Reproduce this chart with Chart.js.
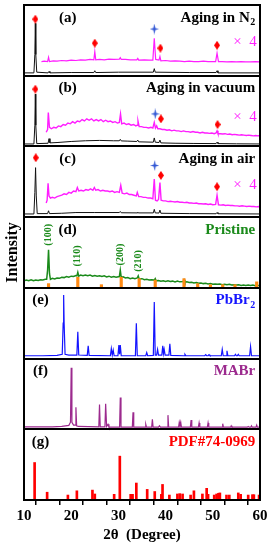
<!DOCTYPE html>
<html>
<head>
<meta charset="utf-8">
<script src="https://cdn.jsdelivr.net/npm/chart.js@4.4.1/dist/chart.umd.min.js"></script>
<style>
  html, body { margin:0; padding:0; background:#fff; }
  #wrap { width:273px; height:550px; }
</style>
</head>
<body>
<div id="wrap"><canvas id="xrd" width="273" height="550"></canvas></div>
<script>
// XRD stack: panels (a)..(g), each panel one unit tall on the y scale
// values are relative intensity inside a panel, 0 = panel bottom, 1 = panel top

const X_TICKS = [10, 20, 30, 40, 50, 60];

// (a) aging in N2
const aBlack = [[10,0.04],[12.1,0.04],[12.3,0.3],[12.4,0.74],[12.5,0.3],[12.7,0.05],[15.1,0.04],[15.3,0.06],[15.5,0.04],
  [20,0.045],[24.8,0.045],[25.0,0.07],[25.2,0.045],[30,0.05],[37.4,0.05],[37.6,0.1],[37.8,0.05],[45,0.045],[50.7,0.045],[50.9,0.07],[51.1,0.04],[60,0.04]];
const aPink = [[13.7,0.2],[14.3,0.205],[15.0,0.2],[15.2,0.26],[15.4,0.2],[16.2,0.21],[17,0.205],[18,0.215],[19,0.21],[20,0.22],[21,0.215],
  [22,0.225],[23,0.22],[24,0.23],[24.8,0.225],[25.0,0.34],[25.2,0.225],[26,0.23],[27,0.225],[28,0.235],[29,0.23],[30.2,0.235],[30.4,0.255],[30.6,0.23],
  [31.5,0.23],[32.5,0.225],[33.9,0.225],[34.1,0.245],[34.3,0.22],[35.5,0.225],[36.5,0.22],[37.3,0.22],[37.6,0.53],[37.9,0.23],[38.6,0.22],[38.8,0.27],
  [39.0,0.21],[40,0.215],[41,0.205],[42,0.21],[43,0.205],[44,0.2],[45,0.205],[46,0.2],[47,0.2],[48,0.205],[49,0.2],[50.6,0.2],[50.9,0.32],[51.2,0.2],
  [52,0.2],[53,0.195],[54,0.2],[55,0.195],[56,0.2],[57,0.195],[58,0.195],[59,0.2],[60,0.195]];
const aDiamonds = [[12.4,0.8],[25.0,0.46],[38.9,0.39],[50.9,0.43]];
const aStars = [[37.6,0.66]];

// (b) aging in vacuum
const bBlack = [[10,0.035],[12.1,0.035],[12.3,0.3],[12.4,0.74],[12.5,0.3],[12.7,0.04],[15.1,0.045],[15.3,0.11],[15.5,0.05],[17,0.055],[20,0.07],
  [23,0.08],[26,0.085],[29,0.08],[30.2,0.08],[30.4,0.1],[30.6,0.078],[32,0.075],[33.9,0.07],[34.1,0.09],[34.3,0.065],[37.4,0.06],[37.6,0.12],[37.8,0.06],
  [38.6,0.055],[38.8,0.09],[39.0,0.05],[42,0.045],[46,0.042],[50.7,0.04],[50.9,0.06],[51.1,0.04],[55,0.037],[60,0.035]];
const bPink = [[14.7,0.2],[15.0,0.24],[15.15,0.48],[15.4,0.27],[15.8,0.25],[16.3,0.27],[16.8,0.26],[17.3,0.29],[17.8,0.28],[18.3,0.31],[18.8,0.3],
  [19.3,0.33],[19.8,0.32],[20.3,0.35],[20.8,0.33],[21.3,0.36],[21.8,0.35],[22.3,0.38],[22.8,0.36],[23.3,0.39],[23.8,0.37],[24.3,0.39],[24.8,0.36],
  [25.3,0.38],[25.8,0.36],[26.3,0.38],[26.8,0.35],[27.3,0.37],[27.8,0.35],[28.3,0.36],[28.8,0.34],[29.3,0.35],[29.8,0.33],[30.2,0.34],[30.45,0.46],
  [30.7,0.32],[31.2,0.33],[31.7,0.31],[32.2,0.32],[32.7,0.3],[33.2,0.31],[33.7,0.29],[34.0,0.3],[34.15,0.36],[34.4,0.28],[34.9,0.28],[35.4,0.27],
  [35.9,0.27],[36.4,0.26],[36.9,0.27],[37.3,0.26],[37.6,0.34],[37.85,0.26],[38.1,0.29],[38.35,0.25],[38.8,0.25],[39.3,0.24],[39.8,0.24],[40.3,0.23],
  [40.8,0.235],[41.3,0.22],[41.8,0.23],[42.3,0.22],[42.8,0.22],[43.3,0.21],[43.8,0.22],[44.3,0.21],[44.8,0.21],[45.3,0.2],[45.8,0.21],[46.3,0.2],
  [46.8,0.2],[47.3,0.19],[47.8,0.2],[48.3,0.19],[48.8,0.19],[49.3,0.185],[49.8,0.19],[50.3,0.18],[50.7,0.19],[50.9,0.22],[51.1,0.18],[51.6,0.18],
  [52.1,0.175],[52.6,0.18],[53.1,0.17],[53.6,0.175],[54.1,0.165],[54.6,0.17],[55.1,0.165],[55.6,0.16],[56.1,0.165],[56.6,0.16],[57.1,0.155],
  [57.6,0.16],[58.1,0.155],[58.6,0.15],[59.1,0.155],[59.6,0.15],[60,0.15]];
const bDiamonds = [[12.4,0.81],[39.0,0.39],[51.0,0.31]];
const bStars = [[37.8,0.46]];

// (c) aging in air
const cBlack = [[10,0.045],[12.1,0.045],[12.3,0.35],[12.45,0.7],[12.6,0.3],[12.8,0.05],[15.0,0.05],[15.2,0.09],[15.4,0.05],[18,0.055],[21,0.065],
  [25,0.065],[30.2,0.065],[30.4,0.08],[30.6,0.062],[34.0,0.06],[34.1,0.07],[34.2,0.06],[37.4,0.06],[37.6,0.11],[37.8,0.06],[38.6,0.058],[38.8,0.1],
  [39.0,0.055],[45,0.05],[50.7,0.048],[50.9,0.065],[51.1,0.048],[60,0.045]];
const cPink = [[14.7,0.2],[14.9,0.24],[15.1,0.48],[15.3,0.3],[15.6,0.27],[16.0,0.28],[16.5,0.27],[17.0,0.29],[17.5,0.3],[18.0,0.31],[18.5,0.33],
  [19.0,0.32],[19.5,0.35],[20.0,0.34],[20.5,0.37],[21.0,0.36],[21.3,0.42],[21.6,0.37],[22.1,0.38],[22.6,0.37],[23.1,0.39],[23.6,0.38],[24.1,0.4],
  [24.6,0.38],[24.9,0.42],[25.2,0.38],[25.7,0.39],[26.2,0.37],[26.7,0.38],[27.2,0.37],[27.7,0.37],[28.2,0.36],[28.7,0.37],[29.2,0.35],[29.7,0.36],
  [30.2,0.35],[30.5,0.45],[30.8,0.34],[31.3,0.33],[31.8,0.34],[32.3,0.32],[32.8,0.32],[33.3,0.31],[33.8,0.3],[34.0,0.35],[34.3,0.29],[34.8,0.29],
  [35.3,0.28],[35.8,0.28],[36.3,0.27],[36.8,0.27],[37.3,0.26],[37.6,0.54],[37.85,0.24],[38.2,0.23],[38.5,0.25],[38.8,0.49],[39.05,0.24],[39.5,0.23],
  [40.0,0.23],[40.5,0.22],[41.0,0.225],[41.5,0.22],[42.0,0.215],[42.5,0.22],[43.0,0.21],[43.5,0.21],[44.0,0.205],[44.5,0.21],[45.0,0.2],[45.5,0.2],
  [46.0,0.195],[46.5,0.2],[47.0,0.19],[47.5,0.19],[48.0,0.185],[48.5,0.19],[49.0,0.18],[49.5,0.185],[50.0,0.175],[50.6,0.18],[50.9,0.31],[51.2,0.175],
  [51.7,0.17],[52.2,0.175],[52.7,0.165],[53.2,0.17],[53.7,0.165],[54.2,0.165],[54.7,0.16],[55.2,0.16],[55.7,0.155],[56.2,0.16],[56.7,0.155],
  [57.2,0.15],[57.7,0.155],[58.2,0.15],[58.7,0.15],[59.2,0.145],[59.7,0.15],[60,0.145]];
const cDiamonds = [[12.5,0.84],[39.0,0.59],[50.9,0.43]];
const cStars = [[37.7,0.73]];

// (d) pristine film + reference sticks
const dGreen = [[10,0.1],[10.5,0.11],[11,0.1],[11.5,0.115],[12,0.1],[12.5,0.11],[13,0.105],[13.5,0.115],[14,0.11],[14.5,0.12],[14.8,0.12],[15.0,0.25],
  [15.2,0.54],[15.4,0.2],[15.6,0.12],[16,0.135],[16.5,0.125],[17,0.14],[17.5,0.135],[18,0.15],[18.5,0.145],[19,0.16],[19.5,0.15],[20,0.165],[20.5,0.16],
  [21.0,0.175],[21.2,0.17],[21.4,0.22],[21.6,0.165],[22,0.18],[22.5,0.17],[23,0.18],[23.5,0.17],[24,0.18],[24.5,0.165],[25,0.175],[25.5,0.165],
  [26,0.17],[26.5,0.16],[27,0.17],[27.5,0.155],[28,0.165],[28.5,0.15],[29,0.16],[29.5,0.15],[30.2,0.16],[30.4,0.25],[30.6,0.15],[31,0.155],[31.5,0.14],
  [32,0.145],[32.5,0.13],[33,0.14],[33.5,0.13],[34.0,0.14],[34.2,0.17],[34.4,0.125],[35,0.13],[35.5,0.115],[36,0.12],[36.5,0.11],[37,0.115],[37.6,0.11],
  [37.8,0.13],[38.0,0.1],[38.5,0.105],[39,0.095],[39.5,0.1],[40,0.09],[40.5,0.1],[41,0.09],[41.5,0.095],[42,0.085],[42.5,0.095],[43,0.085],[43.7,0.09],
  [43.9,0.115],[44.1,0.08],[44.5,0.085],[45,0.075],[45.5,0.08],[46,0.07],[46.5,0.075],[47,0.065],[47.5,0.07],[48,0.06],[48.5,0.065],[49,0.055],
  [49.5,0.06],[50,0.05],[50.5,0.055],[51,0.05],[51.5,0.055],[52,0.045],[52.5,0.05],[53,0.045],[53.5,0.05],[54,0.04],[54.5,0.045],[55,0.04],
  [55.5,0.045],[56,0.035],[56.5,0.04],[57,0.035],[57.5,0.04],[58,0.035],[58.5,0.04],[59,0.03],[59.5,0.035],[60,0.035]];
const dStickPos = [15.2, 21.4, 26.4, 30.6, 34.4, 37.8, 43.9, 46.8, 49.5, 52.1, 54.7, 59.3];
const dStickHeight = [0.06, 0.15, 0.045, 0.15, 0.13, 0.11, 0.13, 0.06, 0.045, 0.045, 0.045, 0.085];
const dPlanes = [['(100)', 15.1, 0.75], ['(110)', 21.4, 0.45], ['(200)', 30.4, 0.47], ['(210)', 34.2, 0.38]];

// (e) PbBr2
const ePbBr2 = [[10,0.04],[14,0.04],[17,0.045],[18.1,0.06],[18.3,0.5],[18.4,0.9],[18.5,0.5],[18.7,0.06],[19.5,0.05],[21.2,0.05],[21.4,0.38],[21.6,0.05],
  [23.4,0.045],[23.6,0.18],[23.8,0.045],[28.3,0.04],[28.5,0.14],[28.7,0.05],[28.9,0.12],[29.1,0.04],[29.9,0.04],[30.1,0.19],[30.25,0.06],[30.4,0.19],
  [30.6,0.04],[33.6,0.04],[33.8,0.5],[34.0,0.04],[35.8,0.04],[36.0,0.085],[36.2,0.04],[37.4,0.045],[37.6,0.8],[37.8,0.05],[38.1,0.05],[38.3,0.13],
  [38.5,0.05],[39.2,0.05],[39.4,0.18],[39.55,0.07],[39.7,0.13],[39.9,0.05],[40.7,0.05],[40.9,0.21],[41.1,0.045],[43.9,0.04],[44.1,0.06],[44.3,0.04],
  [48.3,0.04],[48.5,0.055],[48.7,0.04],[49.0,0.04],[49.2,0.055],[49.4,0.04],[51.8,0.04],[52.0,0.13],[52.2,0.04],[52.8,0.04],[53.0,0.11],[53.2,0.04],
  [54.6,0.04],[54.8,0.06],[55.0,0.04],[55.2,0.04],[55.4,0.06],[55.6,0.04],[57.8,0.04],[58.0,0.17],[58.2,0.04],[60,0.04]];

// (f) MABr
const fMABr = [[10,0.035],[16,0.035],[18,0.04],[19.5,0.055],[19.85,0.1],[20.0,0.87],[20.15,0.1],[20.5,0.06],[20.85,0.06],[21.0,0.31],[21.15,0.05],
  [21.5,0.04],[25.85,0.035],[26.0,0.35],[26.15,0.035],[27.15,0.035],[27.3,0.36],[27.5,0.04],[27.8,0.07],[28.0,0.03],[30.25,0.03],[30.4,0.45],
  [30.55,0.03],[32.95,0.03],[33.1,0.24],[33.25,0.03],[35.65,0.03],[35.8,0.07],[35.95,0.03],[37.05,0.03],[37.2,0.14],[37.35,0.03],[38.5,0.03],
  [38.7,0.05],[38.9,0.03],[40.35,0.03],[40.5,0.2],[40.65,0.03],[42.75,0.03],[42.9,0.1],[43.05,0.06],[43.2,0.1],[43.35,0.03],[45.25,0.03],[45.4,0.13],
  [45.55,0.03],[46.95,0.03],[47.1,0.09],[47.25,0.03],[48.85,0.03],[49.0,0.09],[49.15,0.03],[51.95,0.03],[52.1,0.08],[52.25,0.03],[53.75,0.03],
  [53.9,0.05],[54.05,0.03],[57.3,0.03],[57.5,0.04],[57.7,0.03],[58.05,0.03],[58.2,0.05],[58.35,0.03],[59.15,0.03],[59.3,0.06],[59.45,0.03],[60,0.03]];

// (g) PDF#74-0969 stick pattern
const gPos = [12.25, 14.9, 19.3, 21.2, 24.5, 25.0, 29.1, 30.3, 32.6, 33.0, 33.8, 36.1, 37.7, 39.1, 39.35, 40.8, 42.5, 43.0, 43.6, 45.3, 46.0,
  47.8, 48.7, 49.0, 50.3, 50.8, 51.2, 51.5, 52.9, 53.5, 55.4, 55.9, 57.5, 58.4, 58.7, 59.8];
const gHeight = [0.53, 0.11, 0.07, 0.13, 0.14, 0.085, 0.08, 0.62, 0.08, 0.08, 0.24, 0.15, 0.12, 0.08, 0.22, 0.07, 0.085, 0.09, 0.085, 0.07, 0.13,
  0.085, 0.165, 0.08, 0.07, 0.085, 0.095, 0.1, 0.07, 0.07, 0.1, 0.08, 0.07, 0.075, 0.075, 0.07];

// panel order from top, each with its labels
const PANELS = ['(a)', '(b)', '(c)', '(d)', '(e)', '(f)', '(g)'];
const PANEL_TITLES = [['Aging in N', '2'], ['Aging in vacuum', ''], ['Aging in air', ''], ['Pristine', ''], ['PbBr', '2'], ['MABr', ''], ['PDF#74-0969', '']];

const COLORS = { black:'#111111', pink:'#ff1eff', green:'#1a8a1a', orange:'#ff8a14', blue:'#1414ff', purple:'#9c2a8e', red:'#ff0000', star:'#2f55d4' };
const SERIF = '"Liberation Serif", "Times New Roman", serif';

function off(panelIdx){ return 6 - panelIdx; }
function pts(arr, p){ return arr.map(d => ({ x:d[0], y:d[1] + off(p) })); }

function makeDiamond(color){
  const c = document.createElement('canvas');
  c.width = 6; c.height = 9;
  const g = c.getContext('2d');
  g.fillStyle = color;
  g.beginPath(); g.moveTo(3,0); g.lineTo(6,4.5); g.lineTo(3,9); g.lineTo(0,4.5); g.closePath(); g.fill();
  return c;
}
function makeStar(color){
  const c = document.createElement('canvas');
  c.width = 9; c.height = 11;
  const g = c.getContext('2d');
  g.fillStyle = color;
  g.beginPath();
  g.moveTo(4.5,0); g.lineTo(5.5,4.5); g.lineTo(9,5.5); g.lineTo(5.5,6.5);
  g.lineTo(4.5,11); g.lineTo(3.5,6.5); g.lineTo(0,5.5); g.lineTo(3.5,4.5);
  g.closePath(); g.fill();
  return c;
}
const diamond = makeDiamond(COLORS.red);
const star = makeStar(COLORS.star);

function line(data, color, width, order){
  return { type:'line', data, borderColor:color, borderWidth:width, pointRadius:0, tension:0, fill:false, order };
}
function markers(data, style){
  return { type:'line', data, showLine:false, pointStyle:style, pointRadius:4, order:0 };
}

const datasets = [
  markers(pts(aDiamonds,0), diamond), markers(pts(aStars,0), star),
  markers(pts(bDiamonds,1), diamond), markers(pts(bStars,1), star),
  markers(pts(cDiamonds,2), diamond), markers(pts(cStars,2), star),
  { type:'bar', data: dStickPos.map((x,i)=>({ x, y:[off(3), off(3)+dStickHeight[i]] })), backgroundColor:COLORS.orange,
    barThickness:2.5, grouped:false, order:1 },
  { type:'bar', data: gPos.map((x,i)=>({ x, y:gHeight[i] })), backgroundColor:COLORS.red, barThickness:2, grouped:false, order:1 },
  line(pts(aPink,0), COLORS.pink, 1.2, 3), line(pts(aBlack,0), COLORS.black, 1, 4),
  line(pts(bPink,1), COLORS.pink, 1.4, 3), line(pts(bBlack,1), COLORS.black, 1, 4),
  line(pts(cPink,2), COLORS.pink, 1.4, 3), line(pts(cBlack,2), COLORS.black, 1, 4),
  line(pts(dGreen,3), COLORS.green, 1.5, 3),
  line(pts(ePbBr2,4), COLORS.blue, 1.2, 3),
  line(pts(fMABr,5), COLORS.purple, 1.2, 3)
];

// frame, panel separators and all in-panel text
const framePlugin = {
  id:'frame',
  afterDatasetsDraw(chart){
    const { ctx, chartArea:a, scales:{x, y} } = chart;
    ctx.save();
    ctx.strokeStyle = '#000';
    ctx.lineWidth = 2;
    ctx.strokeRect(a.left, a.top, a.right - a.left, a.bottom - a.top);
    for (let i = 1; i < 7; i++){
      const py = Math.round(y.getPixelForValue(i));
      ctx.beginPath(); ctx.moveTo(a.left, py); ctx.lineTo(a.right, py); ctx.stroke();
    }
    ctx.textBaseline = 'middle';
    const textColors = ['#000','#000','#000',COLORS.green,COLORS.blue,COLORS.purple,COLORS.red];
    PANELS.forEach((lab, i) => {
      const py = y.getPixelForValue(off(i) + 0.82);
      ctx.font = 'bold 15px ' + SERIF;
      ctx.fillStyle = '#000';
      ctx.textAlign = 'center';
      ctx.fillText(lab, x.getPixelForValue(i < 4 ? 19.25 : 13.5), py);
      // right side title with optional subscript
      const [main, sub] = PANEL_TITLES[i];
      let right = x.getPixelForValue(59.0);
      ctx.fillStyle = textColors[i];
      ctx.textAlign = 'right';
      if (sub){
        ctx.font = 'bold 10px ' + SERIF;
        ctx.fillText(sub, right, py + 5);
        right -= ctx.measureText(sub).width + 0.5;
        ctx.font = 'bold 15px ' + SERIF;
      }
      ctx.fillText(main, right, py);
    });
    // x4 labels for magnified traces
    ctx.font = '15px ' + SERIF;
    ctx.fillStyle = COLORS.pink;
    ctx.textAlign = 'center';
    [[0,0.48],[1,0.41],[2,0.46]].forEach(([p, v]) => {
      ctx.fillText('\u00d7  4', x.getPixelForValue(56.8), y.getPixelForValue(off(p) + v));
    });
    // Miller indices, rotated
    ctx.font = 'bold 10px ' + SERIF;
    ctx.fillStyle = COLORS.green;
    dPlanes.forEach(([t, px, v]) => {
      ctx.save();
      ctx.translate(x.getPixelForValue(px), y.getPixelForValue(off(3) + v));
      ctx.rotate(-Math.PI/2);
      ctx.fillText(t, 0, 0);
      ctx.restore();
    });
    ctx.restore();
  }
};

new Chart(document.getElementById('xrd'), {
  type:'line',
  data:{ datasets },
  options:{
    responsive:false,
    animation:false,
    devicePixelRatio:1,
    layout:{ padding:{ top:3, right:13, left:0, bottom:0 } },
    plugins:{ legend:{ display:false }, tooltip:{ enabled:false } },
    scales:{
      x:{
        type:'linear', min:10, max:60, offset:false,
        afterFit(s){ s.height = 50; },
        ticks:{ stepSize:5, autoSkip:false, maxRotation:0, padding:2, color:'#000',
          font:{ family:SERIF, size:15, weight:'bold' },
          callback:(v) => X_TICKS.includes(v) ? String(v) : '' },
        grid:{ drawOnChartArea:false, tickLength:5, color:'#000', lineWidth:1.5 },
        border:{ display:false },
        title:{ display:true, text:'2\u03b8  (Degree)', color:'#000', padding:{ top:0, bottom:6 },
          font:{ family:SERIF, size:15, weight:'bold' } }
      },
      y:{
        min:0, max:7,
        afterFit(s){ s.width = 24; },
        ticks:{ display:false },
        grid:{ display:false },
        border:{ display:false },
        title:{ display:true, text:'Intensity', color:'#000', padding:{ top:3, bottom:0 },
          font:{ family:SERIF, size:16, weight:'bold' } }
      }
    }
  },
  plugins:[framePlugin]
});
</script>
</body>
</html>
